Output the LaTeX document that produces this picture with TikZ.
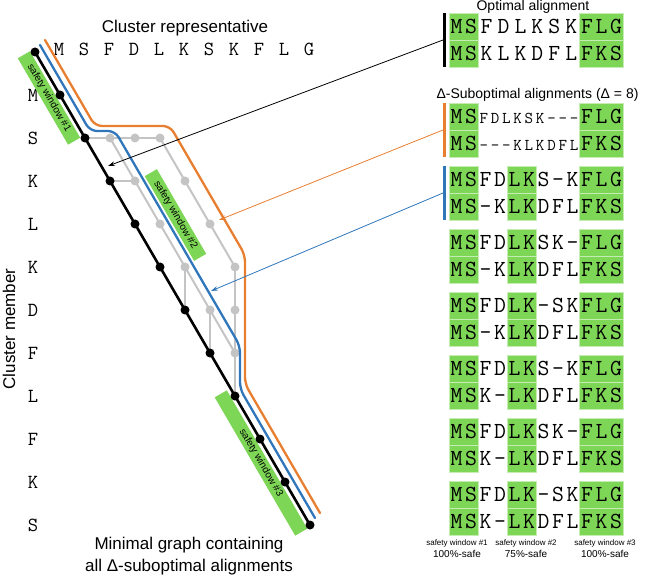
\documentclass[tikz,border=0pt]{standalone}
\usepackage{fontspec}
\setmainfont{Liberation Sans}
\usetikzlibrary{calc,arrows.meta}

\definecolor{verdeF}{RGB}{125,214,86}
\definecolor{arancioC}{RGB}{232,126,48}
\definecolor{bluC}{RGB}{48,118,186}
\definecolor{grigioC}{RGB}{196,196,196}

% riga di sequenza a passo fisso (una lettera per casella)
\makeatletter
\newcommand\seqrow[2][14.5pt]{\def\passo{#1}\seq@a#2\@nil}
\def\seq@a#1{\ifx#1\@nil\else\makebox[\passo]{#1}\expandafter\seq@a\fi}
\makeatother

\begin{document}
\begin{tikzpicture}[x=1pt, y=-1pt,
	ottimo/.style={line width=2.6pt, line cap=round, black},
	grigio/.style={line width=2pt, grigioC},
	arancio/.style={line width=2.3pt, line cap=round, rounded corners=7pt, arancioC},
	blu/.style={line width=2.3pt, line cap=round, rounded corners=7pt, bluC},
	nodo/.style={circle, fill=black, inner sep=0pt, minimum size=9pt},
	nodog/.style={circle, fill=grigioC, inner sep=0pt, minimum size=9pt},
	finestra/.style={fill=verdeF, inner sep=0pt, minimum height=14pt, rotate=-59.8, font=\fontsize{10}{10}\selectfont},
	freccia/.style={-{Stealth[length=7pt, width=4.5pt]}, line width=0.8pt},
	cella/.style={fill=verdeF, draw=verdeF!45!white, line width=0.5pt},
	barra/.style={line width=3pt},
	lettera/.style={font=\fontsize{20}{20}\selectfont\ttfamily, inner sep=0pt},
	seq/.style={font=\fontsize{23}{23}\selectfont\ttfamily, inner sep=0pt, anchor=west},
	lab/.style={font=\fontsize{17}{22}\selectfont},
	labp/.style={font=\fontsize{14}{14}\selectfont},
	]
	
	\useasboundingbox (0,0) rectangle (646,575);
	
	\def\xo{35}   % nodo (0,0)
	\def\yo{52}
	\def\dx{25}   % passo colonne
	\def\dy{43}   % passo righe
	
	%%═══ GRAFO ══════════════════════════════════════════════════════
	% nodi: diagonale ottima + nodi sub-ottimi
	\foreach \i in {0,...,11}
		\coordinate (n-\i-\i) at ({\xo+\dx*\i},{\yo+\dy*\i});
	\foreach \i/\j in {3/2,4/2,5/2,4/3,6/3,5/4,7/4,6/5,8/5,7/6,8/6,8/7}
		\coordinate (n-\i-\j) at ({\xo+\dx*\i},{\yo+\dy*\j});
	
	% sequenze sugli assi
	\foreach \c [count=\i] in {M,S,F,D,L,K,S,K,F,L,G}
		\node[lettera] (rap-\i) at ({\xo-1+\dx*\i},49) {\c};
	\foreach \c [count=\j] in {M,S,K,L,K,D,F,L,F,K,S}
		\node[lettera] (mem-\j) at (33,{\yo+\dy*\j}) {\c};
	
	% finestre di sicurezza
	\node[finestra, minimum width=100pt] (fin-1) at ($(n-1-1)+(-11,3)$) {safety window \#1};
	\node[finestra, minimum width=98pt]  (fin-2) at ($(n-5-4)+(15.5,-9)$) {safety window \#2};
	\node[finestra, minimum width=160pt] (fin-3) at ($(n-9-9)+(1,24)$) {safety window \#3};
	
	% archi sub-ottimi
	\foreach \a/\b in {2-2/3-2, 3-2/4-2, 4-2/5-2, 3-3/4-3, 3-2/4-3, 4-3/5-4, 5-4/6-5,
		6-5/7-6, 7-6/8-7, 5-2/6-3, 6-3/7-4, 7-4/8-5, 8-5/8-6, 8-6/8-7, 8-7/8-8,
		6-5/6-6, 7-6/7-7}
		\draw[grigio] (n-\a) -- (n-\b);
	\foreach \p in {3-2,4-2,5-2,4-3,6-3,5-4,7-4,6-5,8-5,7-6,8-6,8-7}
		\node[nodog] (d-\p) at (n-\p) {};
	
	% allineamento ottimo
	\draw[ottimo] (n-0-0) -- (n-11-11);
	
	% percorsi evidenziati (spostati verso l'alto a destra)
	\draw[arancio] ([shift={(10,-12)}]n-0-0)
		\foreach \p in {2-2,5-2,8-5,8-8,11-11} { -- ([shift={(10,-12)}]n-\p) };
	\draw[blu] ([shift={(5,-7)}]n-0-0)
		\foreach \p in {2-2,3-2,8-7,8-8,11-11} { -- ([shift={(5,-7)}]n-\p) };
	
	\foreach \i in {0,...,11}
		\node[nodo] (d-\i-\i) at (n-\i-\i) {};
	
	\node[lab] (rappr) at (185,28) {Cluster representative};
	\node[lab, rotate=90] (membro) at (9,329) {Cluster member};
	\node[lab, align=center] (didasc) at (189,556) {Minimal graph containing\\all Δ-suboptimal alignments};
	
	%%═══ ALLINEAMENTI ═══════════════════════════════════════════════
	\node[labp] (tit-ott) at (533,7) {Optimal alignment};
	\node[labp] (tit-sub) at (537.5,95) {Δ-Suboptimal alignments (Δ = 8)};
	
	% ---- ottimo ----
	\foreach \r in {0,1} {
		\draw[cella] (449,{13+27*\r}) rectangle (478,{40+27*\r});
		\draw[cella] (579.5,{13+27*\r}) rectangle (623,{40+27*\r});
	}
	\node[seq] (ott-1) at (449,26.5) {\seqrow{MS}\seqrow[16.92pt]{FDLKSK}\seqrow{FLG}};
	\node[seq] (ott-2) at (449,53.5) {\seqrow{MS}\seqrow[16.92pt]{KLKDFL}\seqrow{FKS}};
	
	% ---- sub-ottimo con gap lunghi ----
	\foreach \r in {0,1} {
		\draw[cella] (449,{103+27*\r}) rectangle (478,{130+27*\r});
		\draw[cella] (579.5,{103+27*\r}) rectangle (623,{130+27*\r});
	}
	\node[seq] (sub-1) at (449,116.5) {\seqrow{MS}{\fontsize{16.5}{16.5}\selectfont\seqrow[11.28pt]{FDLKSK---}}\seqrow{FLG}};
	\node[seq] (sub-2) at (449,143.5) {\seqrow{MS}{\fontsize{16.5}{16.5}\selectfont\seqrow[11.28pt]{---KLKDFL}}\seqrow{FKS}};
	
	% ---- altri sub-ottimi ----
	\foreach \yb/\su/\giu in {166/MSFDLKS-KFLG/MS-KLKDFLFKS, 229/MSFDLKSK-FLG/MS-KLKDFLFKS,
		292/MSFDLK-SKFLG/MS-KLKDFLFKS, 355/MSFDLKS-KFLG/MSK-LKDFLFKS,
		418/MSFDLKSK-FLG/MSK-LKDFLFKS, 481/MSFDLK-SKFLG/MSK-LKDFLFKS} {
		\foreach \r in {0,1} {
			\draw[cella] (449,{\yb+27*\r}) rectangle (478,{\yb+27+27*\r});
			\draw[cella] (507,{\yb+27*\r}) rectangle (536,{\yb+27+27*\r});
			\draw[cella] (579.5,{\yb+27*\r}) rectangle (623,{\yb+27+27*\r});
		}
		\node[seq] (al-\yb-1) at (449,{\yb+13.5}) {\expandafter\seqrow\expandafter{\su}};
		\node[seq] (al-\yb-2) at (449,{\yb+40.5}) {\expandafter\seqrow\expandafter{\giu}};
	}
	
	% barre colorate e frecce verso il grafo
	\draw[barra, black]    (444,13)  -- (444,67);
	\draw[barra, arancioC] (444,103) -- (444,157);
	\draw[barra, bluC]     (444,166) -- (444,220);
	\coordinate (b-ott) at (443,40);
	\coordinate (b-sub) at (443,130);
	\coordinate (b-blu) at (443,193);
	\coordinate (t-ott) at (108,166);
	\coordinate (t-sub) at (219,220);
	\coordinate (t-blu) at (211,291);
	\draw[freccia, black]    (b-ott) -- (t-ott);
	\draw[freccia, arancioC] (b-sub) -- (t-sub);
	\draw[freccia, bluC]     (b-blu) -- (t-blu);
	
	% didascalie delle finestre
	\foreach \x/\n/\s in {457/1/100, 526/2/75, 605/3/100} {
		\node[font=\fontsize{8}{8}\selectfont] (cap-\n) at (\x,543) {safety window \#\n};
		\node[font=\fontsize{10}{10}\selectfont] (safe-\n) at (\x,553.5) {\s\%-safe};
	}
	
\end{tikzpicture}
\end{document}
